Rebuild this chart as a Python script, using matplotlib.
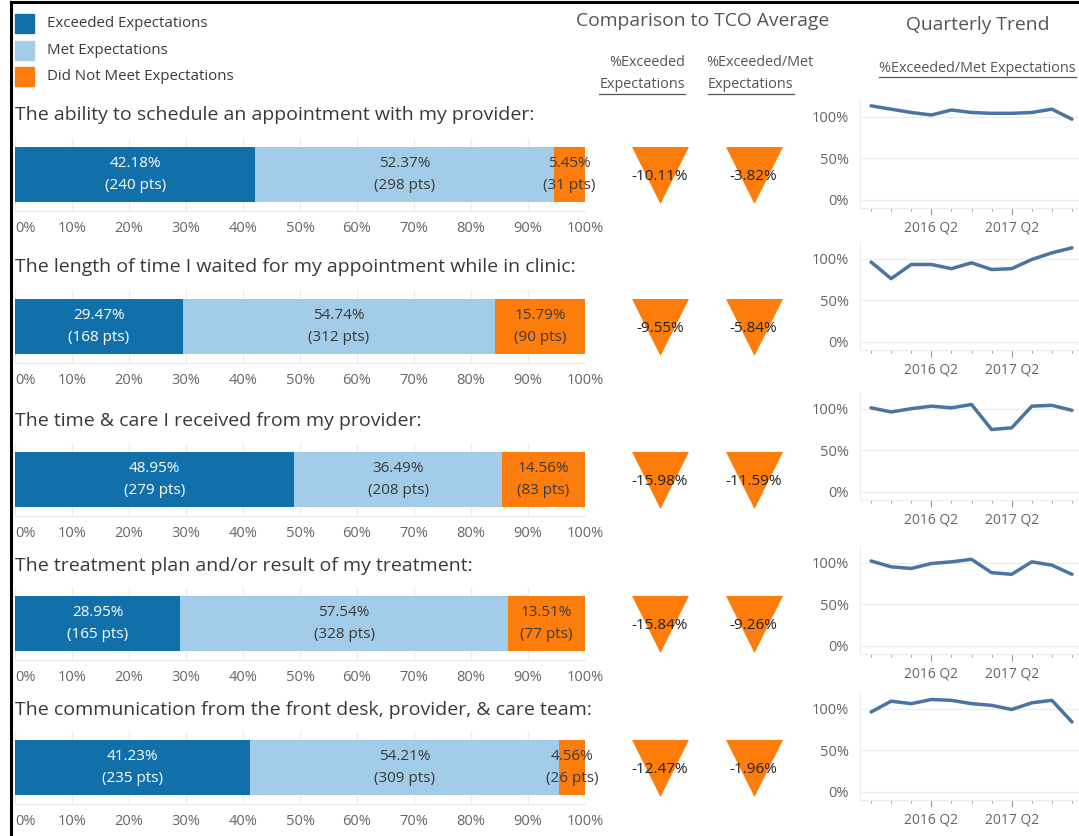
import matplotlib
matplotlib.use("Agg")
import matplotlib.pyplot as plt
import matplotlib.transforms as mtrans
from matplotlib.patches import Rectangle
from matplotlib.lines import Line2D

plt.rcParams['font.family'] = ['Open Sans', 'DejaVu Sans']

# data
questions = [
    "The ability to schedule an appointment with my provider:",
    "The length of time I waited for my appointment while in clinic:",
    "The time & care I received from my provider:",
    "The treatment plan and/or result of my treatment:",
    "The communication from the front desk, provider, & care team:",
]
exceeded_pct = [42.18, 29.47, 48.95, 28.95, 41.23]
met_pct = [52.37, 54.74, 36.49, 57.54, 54.21]
not_met_pct = [5.45, 15.79, 14.56, 13.51, 4.56]
exceeded_pts = [240, 168, 279, 165, 235]
met_pts = [298, 312, 208, 328, 309]
not_met_pts = [31, 90, 83, 77, 26]

diff_exceeded = [-10.11, -9.55, -15.98, -15.84, -12.47]
diff_exc_met = [-3.82, -5.84, -11.59, -9.26, -1.96]

quarters = ["2015 Q3", "2015 Q4", "2016 Q1", "2016 Q2", "2016 Q3", "2016 Q4",
            "2017 Q1", "2017 Q2", "2017 Q3", "2017 Q4", "2018 Q1"]
trend_1 = [113, 109, 105, 102, 108, 105, 104, 104, 105, 109, 97]
trend_2 = [96, 76, 93, 93, 88, 95, 87, 88, 99, 107, 113]
trend_3 = [101, 96, 100, 103, 101, 105, 75, 77, 103, 104, 98]
trend_4 = [102, 95, 93, 99, 101, 104, 88, 86, 101, 97, 86]
trend_5 = [96, 109, 106, 111, 110, 106, 104, 99, 107, 110, 84]
trends = [trend_1, trend_2, trend_3, trend_4, trend_5]

legend_labels = ['Exceeded Expectations', 'Met Expectations', 'Did Not Meet Expectations']

# colours (Tableau colour blind)
C_EXC = '#1170aa'
C_MET = '#a3cce9'
C_NOT = '#fc7d0b'
C_LINE = '#4a74a2'
C_GRID = '#ececec'
C_TXT = '#3a3a3a'
C_AX = '#666666'
C_HEAD = '#555555'

W, H = 1079, 836
fig = plt.figure(figsize=(W / 100, H / 100), dpi=100)


def rect(x0, y0, x1, y1):
    return [x0 / W, 1 - y1 / H, (x1 - x0) / W, (y1 - y0) / H]


def ftext(x, y, s, **kw):
    return fig.text(x / W, 1 - y / H, s, **kw)


# outer frame (left & top)
fig.add_artist(Line2D([11 / W, 11 / W], [0, 1 - 2 / H], color='black', lw=2.2))
fig.add_artist(Line2D([11 / W, 1], [1 - 2 / H, 1 - 2 / H], color='black', lw=2.2))

# legend
for k, (lab, col) in enumerate(zip(legend_labels, [C_EXC, C_MET, C_NOT])):
    yc = 23.5 + 26.5 * k
    fig.add_artist(Rectangle((15 / W, 1 - (yc + 9.5) / H), 19 / W, 19 / H, color=col,
                             transform=fig.transFigure))
    ftext(47, yc, lab, ha='left', va='center', fontsize=10.8, color=C_TXT)

# headers
ftext(703, 21, "Comparison to TCO Average", ha='center', va='center', fontsize=13.9, color=C_HEAD)
ftext(978, 25, "Quarterly Trend", ha='center', va='center', fontsize=13.9, color=C_HEAD)
ftext(685, 63, "%Exceeded", ha='right', va='center', fontsize=10.4, color=C_HEAD)
ftext(706, 63, "%Exceeded/Met", ha='left', va='center', fontsize=10.4, color=C_HEAD)
ul = [ftext(685, 85, "Expectations", ha='right', va='center', fontsize=10.4, color=C_HEAD),
      ftext(708, 85, "Expectations", ha='left', va='center', fontsize=10.4, color=C_HEAD),
      ftext(879, 68, "%Exceeded/Met Expectations", ha='left', va='center', fontsize=10.4, color=C_HEAD)]

title_y = [115, 267, 421, 566, 710]
bar_top = [147, 299, 452, 596, 740]
trend_zero = [200, 342, 492, 646, 792]

for i in range(5):
    ftext(15, title_y[i], questions[i], ha='left', va='center', fontsize=14, color=C_TXT)

    # stacked bar
    ax = fig.add_axes(rect(15, bar_top[i] - 9, 585, bar_top[i] + 64))
    segs = [(exceeded_pct[i], exceeded_pts[i], C_EXC, 'white'),
            (met_pct[i], met_pts[i], C_MET, C_TXT),
            (not_met_pct[i], not_met_pts[i], C_NOT, C_TXT)]
    left = 0
    for pct, pts, col, tc in segs:
        ax.barh(0, pct, left=left, height=1.5, color=col, zorder=2)
        cx = left + pct / 2
        ax.text(cx, 0.3, f"{pct:.2f}%", ha='center', va='center', fontsize=11, color=tc, zorder=3)
        ax.text(cx, -0.3, f"({pts} pts)", ha='center', va='center', fontsize=11, color=tc, zorder=3)
        left += pct
    ax.set_xlim(0, 100)
    ax.set_ylim(-1, 1)
    ax.set_xticks(range(0, 101, 10))
    ax.set_xticklabels([f"{v}%" for v in range(0, 101, 10)], fontsize=10.5, color=C_AX)
    first = ax.get_xticklabels()[0]
    first.set_horizontalalignment('left')
    first.set_transform(first.get_transform() + mtrans.ScaledTranslation(4 / 100, 0, fig.dpi_scale_trans))
    ax.tick_params(axis='x', length=0, pad=7)
    ax.set_yticks([])
    ax.grid(axis='x', color=C_GRID, lw=0.8, zorder=0)
    for s in ['top', 'right', 'left']:
        ax.spines[s].set_visible(False)
    ax.spines['bottom'].set_color(C_GRID)
    ax.set_facecolor('none')

    # triangles (comparison to average)
    tc = bar_top[i] + 27.5
    tax = fig.add_axes(rect(600, tc - 40, 800, tc + 40))
    tax.scatter([0, 1], [0, 0], marker='v', s=41 ** 2, color=C_NOT, linewidths=0)
    tax.text(0, -0.06, f"{diff_exceeded[i]:.2f}%", ha='center', va='center', fontsize=11, color='#222222')
    tax.text(1, -0.06, f"{diff_exc_met[i]:.2f}%", ha='center', va='center', fontsize=11, color='#222222')
    tax.set_xlim(-0.642, 1.497)
    tax.set_ylim(-1, 1)
    tax.axis('off')

    # quarterly trend
    z = trend_zero[i]
    lax = fig.add_axes(rect(860, z - 100, 1079, z + 8.3))
    xs = list(range(len(quarters)))
    lax.plot(xs, trends[i], color=C_LINE, lw=2.5, solid_joinstyle='round', solid_capstyle='round')
    lax.set_xlim(-0.55, 10.35)
    lax.set_ylim(-10, 120)
    lax.set_yticks([0, 50, 100])
    lax.set_yticklabels(['0%', '50%', '100%'], fontsize=10.5, color=C_AX)
    lax.tick_params(axis='y', length=0, pad=8)
    lax.set_xticks(xs, minor=True)
    lax.set_xticks([3, 7])
    lax.set_xticklabels([quarters[3], quarters[7]], fontsize=10, color=C_AX)
    lax.tick_params(axis='x', which='major', length=5, color='#999999', pad=4)
    lax.tick_params(axis='x', which='minor', length=2, color='#999999')
    lax.grid(axis='y', color=C_GRID, lw=0.8)
    for s in ['top', 'right']:
        lax.spines[s].set_visible(False)
    lax.spines['left'].set_color(C_GRID)
    lax.spines['bottom'].set_color(C_GRID)
    lax.set_facecolor('none')

# underline header labels
fig.canvas.draw()
r = fig.canvas.get_renderer()
for t in ul:
    bb = t.get_window_extent(r)
    y = (bb.y0 - 1) / H
    fig.add_artist(Line2D([bb.x0 / W, bb.x1 / W], [y, y], color=C_HEAD, lw=0.9))

fig.savefig('out.png', dpi=100)
